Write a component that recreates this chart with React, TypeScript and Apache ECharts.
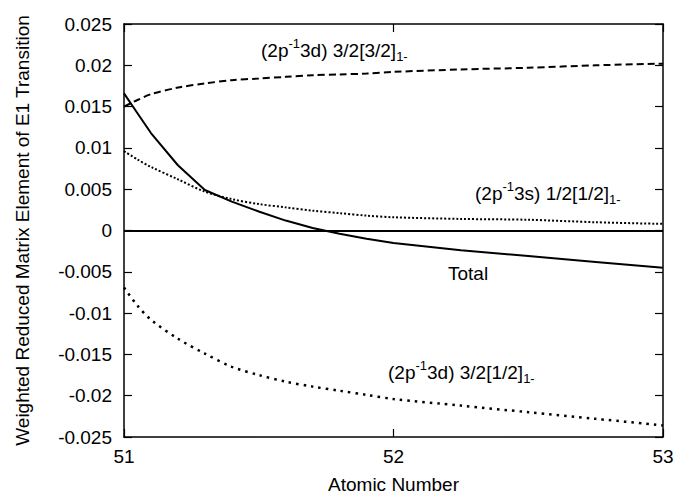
import React, { useEffect, useRef } from "react";
import * as echarts from "echarts";

const atomicNumbers = [51, 51.05, 51.1, 51.2, 51.3, 51.4, 51.5, 51.6, 51.7, 51.8, 51.9, 52, 52.25, 52.5, 52.75, 53];
const d32_32 = [0.015, 0.0158, 0.0165, 0.0173, 0.0178, 0.0182, 0.0184, 0.0186, 0.0188, 0.0189, 0.0190, 0.0192, 0.0195, 0.0197, 0.02, 0.0202];
const s12_12 = [0.0096, 0.0086, 0.0077, 0.0062, 0.0047, 0.0038, 0.0032, 0.0028, 0.0024, 0.0021, 0.0018, 0.0016, 0.0014, 0.0013, 0.001, 0.0008];
const total = [0.0166, 0.0142, 0.0118, 0.0079, 0.0049, 0.0035, 0.0023, 0.0012, 0.0003, -0.0004, -0.001, -0.0015, -0.0024, -0.0031, -0.0038, -0.0045];
const d32_12 = [-0.0069, -0.0091, -0.0108, -0.0131, -0.0149, -0.0165, -0.0175, -0.0183, -0.0189, -0.0194, -0.0199, -0.0204, -0.0212, -0.022, -0.0228, -0.0236];

const FONT = "'Liberation Sans', Arial, Helvetica, sans-serif";
const rich = {
  a: { fontSize: 19, fontFamily: FONT, color: "#000", lineHeight: 26 },
  s: { fontSize: 13, fontFamily: FONT, color: "#000", verticalAlign: "top" },
  b: { fontSize: 13, fontFamily: FONT, color: "#000", verticalAlign: "bottom" },
};

const pairs = (ys: number[]) => atomicNumbers.map((x, i) => [x, ys[i]]);

export default function App() {
  const ref = useRef<HTMLDivElement>(null);
  useEffect(() => {
    const chart = echarts.init(ref.current!, null, { renderer: "svg" });
    const axisCommon = {
      axisLine: { show: true, onZero: false, lineStyle: { color: "#000", width: 1.5 } },
      axisTick: { show: true, inside: true, length: 8, lineStyle: { color: "#000", width: 1.2 } },
      splitLine: { show: false },
    };
    const yFmt = (v: number) => String(parseFloat(v.toFixed(3)));
    chart.setOption({
      animation: false,
      backgroundColor: "#fff",
      textStyle: { fontFamily: FONT },
      grid: { left: 124, right: 28, top: 24, bottom: 60 },
      xAxis: [
        {
          type: "value", min: 51, max: 53, interval: 1, position: "bottom",
          name: "Atomic Number", nameLocation: "middle", nameGap: 38,
          nameTextStyle: { fontSize: 19, color: "#000", fontFamily: FONT },
          axisLabel: { fontSize: 19, color: "#000", margin: 10, fontFamily: FONT },
          ...axisCommon,
        },
        {
          type: "value", min: 51, max: 53, interval: 1, position: "top",
          axisLabel: { show: false },
          ...axisCommon,
        },
      ],
      yAxis: [
        {
          type: "value", min: -0.025, max: 0.025, interval: 0.005, position: "left",
          name: "Weighted Reduced Matrix Element of E1 Transition", nameLocation: "middle", nameGap: 92,
          nameTextStyle: { fontSize: 19, color: "#000", fontFamily: FONT },
          axisLabel: { fontSize: 19, color: "#000", margin: 12, formatter: yFmt, fontFamily: FONT },
          ...axisCommon,
        },
        {
          type: "value", min: -0.025, max: 0.025, interval: 0.005, position: "right",
          axisLabel: { show: false },
          ...axisCommon,
        },
      ],
      series: [
        {
          type: "line", data: pairs(d32_32), showSymbol: false, symbol: "none", smooth: 0.3,
          lineStyle: { color: "#000", width: 2, type: [7, 4] },
        },
        {
          type: "line", data: pairs(s12_12), showSymbol: false, symbol: "none", smooth: 0.3,
          lineStyle: { color: "#000", width: 2, type: [2, 2] },
        },
        {
          type: "line", data: pairs(total), showSymbol: false, symbol: "none",
          lineStyle: { color: "#000", width: 2, type: "solid" },
          markLine: {
            silent: true, symbol: "none", label: { show: false },
            lineStyle: { color: "#000", width: 1.8, type: "solid" },
            data: [{ yAxis: 0 }],
          },
        },
        {
          type: "line", data: pairs(d32_12), showSymbol: false, symbol: "none", smooth: 0.3,
          lineStyle: { color: "#000", width: 2.5, type: [2.5, 5] },
        },
      ],
      graphic: [
        { type: "text", x: 261, y: 50, style: { text: "{a|(2p}{s|-1}{a|3d) 3/2[3/2]}{b|1-}", rich, verticalAlign: "middle" } },
        { type: "text", x: 475, y: 193, style: { text: "{a|(2p}{s|-1}{a|3s) 1/2[1/2]}{b|1-}", rich, verticalAlign: "middle" } },
        { type: "text", x: 448, y: 273, style: { text: "{a|Total}", rich, verticalAlign: "middle" } },
        { type: "text", x: 388, y: 372, style: { text: "{a|(2p}{s|-1}{a|3d) 3/2[1/2]}{b|1-}", rich, verticalAlign: "middle" } },
      ],
    });
    return () => chart.dispose();
  }, []);
  return <div ref={ref} style={{ width: 691, height: 499, position: "absolute", left: 0, top: 0 }} />;
}
